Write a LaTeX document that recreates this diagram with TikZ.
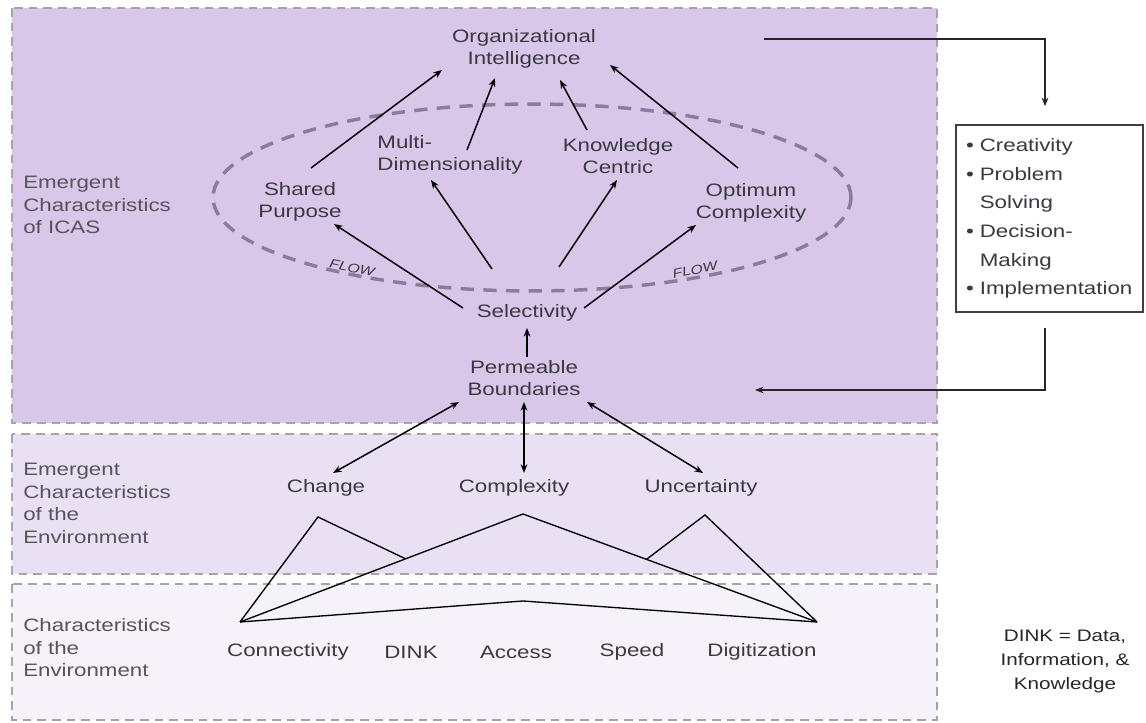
\documentclass[tikz,border=0pt]{standalone}
\usepackage{fontspec}
\setmainfont{Liberation Sans}[FakeStretch=1.24]
\usetikzlibrary{arrows.meta,calc}
\definecolor{topfill}{RGB}{216,199,233}
\definecolor{midfill}{RGB}{233,225,243}
\definecolor{botfill}{RGB}{246,242,249}
\definecolor{dashgray}{RGB}{165,165,168}
\definecolor{ellcol}{RGB}{140,124,156}
\definecolor{txt}{RGB}{58,56,64}
\definecolor{lbltxt}{RGB}{85,84,90}
\tikzset{
  region/.style={draw=dashgray, line width=1.5pt, dash pattern=on 6.5pt off 4.5pt},
  regionlabel/.style={text=lbltxt, font=\fontsize{13.5}{16.9}\selectfont, align=left, inner sep=0pt, anchor=west},
  concept/.style={text=txt, font=\fontsize{13.5}{16.5}\selectfont, align=center, inner sep=0pt},
  flowlabel/.style={text=txt, font=\fontsize{9.5}{11}\selectfont\itshape, inner sep=0pt},
  arr/.style={-{Stealth[length=6.5pt,width=5pt]}, line width=1.1pt, draw=black},
  darr/.style={{Stealth[length=6.5pt,width=5pt]}-{Stealth[length=6.5pt,width=5pt]}, line width=1.1pt, draw=black},
  tri/.style={line width=1pt, draw=black, line join=miter},
  listbox/.style={draw=black!75, line width=1.1pt, fill=white, text=txt,
    font=\fontsize{13.5}{21.5}\selectfont, align=left, text width=125.25pt,
    inner xsep=7.5pt, inner ysep=0pt, minimum height=140.25pt},
  note/.style={text=black!85, font=\fontsize{12.5}{18}\selectfont, align=center, inner sep=0pt}
}
\begin{document}
\begin{tikzpicture}[x=0.75pt,y=-0.75pt]
\useasboundingbox (0,0) rectangle (1146,723);
\fill[white] (0,0) rectangle (1146,723);
% regions
\filldraw[fill=topfill, region] (12,8) rectangle (937,423);
\filldraw[fill=midfill, region] (12,434) rectangle (937,574);
\filldraw[fill=botfill, region] (12,584) rectangle (937,720);
% region labels
\node[regionlabel] (labicas) at (23,205) {Emergent\\Characteristics\\of ICAS};
\node[regionlabel] (labemenv) at (23,503.5) {Emergent\\Characteristics\\of the\\Environment};
\node[regionlabel] (labenv) at (23,648) {Characteristics\\of the\\Environment};
% ellipse
\draw[ellcol, line width=2.6pt, dash pattern=on 10pt off 7pt] (532,197.5) ellipse [x radius=239.25pt, y radius=70.1pt];
% concepts
\node[concept] (oi) at (524,49) {Organizational\\Intelligence};
\node[concept, align=left] (md) at (450,155) {Multi-\\Dimensionality};
\node[concept] (kc) at (618,156) {Knowledge\\Centric};
\node[concept] (sp) at (300,202) {Shared\\Purpose};
\node[concept] (oc) at (751,203) {Optimum\\Complexity};
\node[concept] (sel) at (527,313) {Selectivity};
\node[concept] (pb) at (524,378) {Permeable\\Boundaries};
\node[concept] (chg) at (326,488) {Change};
\node[concept] (cpx) at (514,488) {Complexity};
\node[concept] (unc) at (701,488) {Uncertainty};
\node[concept] (con) at (288,652) {Connectivity};
\node[concept] (dink) at (411,652) {DINK};
\node[concept] (acc) at (516,652) {Access};
\node[concept] (spd) at (632,652) {Speed};
\node[concept] (dig) at (762,652) {Digitization};
% flow labels
\node[flowlabel, rotate=-12] (flowl) at (352,268) {FLOW};
\node[flowlabel, rotate=12] (flowr) at (695,270) {FLOW};
% arrows to OI
\draw[arr] ([shift={(11,-34)}]sp.center) -- ([shift={(-82,21)}]oi.center);
\draw[arr] ([shift={(17,-5)}]md.center) -- ([shift={(-29,29)}]oi.center);
\draw[arr] ([shift={(-31,-26)}]kc.center) -- ([shift={(36,31)}]oi.center);
\draw[arr] ([shift={(-13,-35)}]oc.center) -- ([shift={(86,16)}]oi.center);
% arrows from selectivity
\draw[arr] ([shift={(-64,-5)}]sel.center) -- ([shift={(34,22)}]sp.center);
\draw[arr] ([shift={(-35,-44)}]sel.center) -- ([shift={(-19,25)}]md.center);
\draw[arr] ([shift={(32,-46)}]sel.center) -- ([shift={(-1,24)}]kc.center);
\draw[arr] ([shift={(57,-5)}]sel.center) -- ([shift={(-55,22)}]oc.center);
\draw[arr] ([shift={(3,-21)}]pb.center) -- ([shift={(0,15)}]sel.center);
% double arrows
\draw[darr] ([shift={(-65,24)}]pb.center) -- ([shift={(7,-15)}]chg.center);
\draw[darr] ([shift={(0,24)}]pb.center) -- ([shift={(10,-15)}]cpx.center);
\draw[darr] ([shift={(63,24)}]pb.center) -- ([shift={(2,-15)}]unc.center);
% triangles
\coordinate (cp) at (240,622);
\coordinate (dp) at (817,622);
\coordinate (chA) at (318,517);
\coordinate (cxA) at (523,514);
\coordinate (unA) at (705,515);
\coordinate (acA) at (523,601);
\draw[tri] (cp) -- (cxA) -- (dp);
\draw[tri] (cp) -- (chA) -- ($(cp)!0.585!(cxA)$);
\draw[tri] (dp) -- (unA) -- ($(cxA)!0.42!(dp)$);
\draw[tri] (cp) -- (acA) -- (dp);
% right box and loop
\node[listbox] (box) at (1049.5,218.5) {\textbullet\ Creativity\\
\textbullet\ Problem\\
\hphantom{\textbullet\ }Solving\\
\textbullet\ Decision-\\
\hphantom{\textbullet\ }Making\\
\textbullet\ Implementation};
\coordinate (outs) at (764,39);
\coordinate (ine) at (755,390);
\draw[arr, draw=black!85] (outs) -| ([shift={(-4.5,-18)}]box.north);
\draw[arr, draw=black!85] ([shift={(-4.5,15)}]box.south) |- (ine);
% note
\node[note] (dinkdef) at (1065,661) {DINK = Data,\\Information, \&\\Knowledge};
\end{tikzpicture}
\end{document}
